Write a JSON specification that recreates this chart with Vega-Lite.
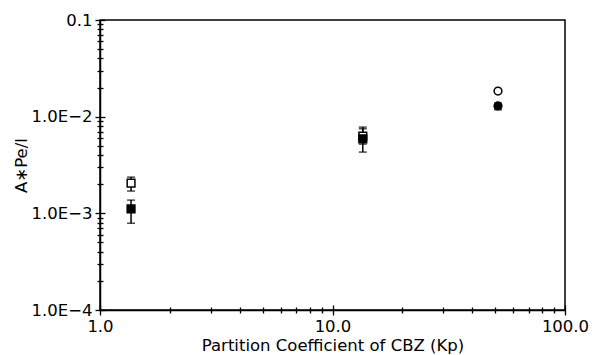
{
  "$schema": "https://vega.github.io/schema/vega-lite/v6.json",
  "width": 465,
  "height": 290,
  "autosize": {"type": "none"},
  "padding": {"left": 100, "top": 20, "right": 27, "bottom": 45},
  "background": "white",
  "config": {
    "view": {"stroke": "black", "strokeWidth": 1.5},
    "font": "DejaVu Sans",
    "axis": {"labelFont": "DejaVu Sans", "titleFont": "DejaVu Sans", "labelFontSize": 16.5, "titleFontSize": 16.5, "titleFontWeight": "normal", "labelColor": "black", "titleColor": "black", "tickColor": "black", "domainColor": "black", "grid": false, "domainWidth": 1.5, "tickWidth": 1.3}
  },
  "data": {
    "values": [
      {"kp": 1.36, "ape": 0.00205, "lo": 0.00170, "hi": 0.00237, "type": "open", "set": "A"},
      {"kp": 1.36, "ape": 0.00111, "lo": 0.00079, "hi": 0.00137, "type": "filled", "set": "A"},
      {"kp": 13.5, "ape": 0.0063, "lo": 0.0052, "hi": 0.0075, "type": "open", "set": "B"},
      {"kp": 13.5, "ape": 0.0059, "lo": 0.0043, "hi": 0.0078, "type": "filled", "set": "B"},
      {"kp": 51.5, "ape": 0.0184, "type": "open", "set": "C"},
      {"kp": 51.5, "ape": 0.0129, "lo": 0.0118, "hi": 0.0138, "type": "filled", "set": "C"}
    ]
  },
  "resolve": {"axis": {"x": "independent", "y": "independent"}},
  "layer": [
    {
      "mark": {"type": "errorbar", "ticks": {"size": 8, "color": "black", "thickness": 1.5}, "rule": {"color": "black", "strokeWidth": 1.5}},
      "encoding": {
        "x": {"field": "kp", "type": "quantitative", "scale": {"type": "log", "domain": [1, 100], "nice": false}, "axis": {"orient": "bottom", "values": [1, 10, 100], "tickSize": 5, "labelPadding": 3, "labelExpr": "datum.value == 1 ? '1.0' : datum.value == 10 ? '10.0' : '100.0'", "title": "Partition Coefficient of CBZ (Kp)", "titlePadding": 3, "labelFlush": false}},
        "y": {"field": "lo", "type": "quantitative", "scale": {"type": "log", "domain": [0.0001, 0.1], "nice": false}, "axis": {"orient": "left", "values": [0.0001, 0.001, 0.01, 0.1], "tickSize": 5, "labelPadding": 3, "labelExpr": "datum.value == 0.1 ? '0.1' : datum.value == 0.01 ? '1.0E\u22122' : datum.value == 0.001 ? '1.0E\u22123' : '1.0E\u22124'", "title": "A\u2217Pe/l", "titlePadding": 2, "labelFlush": false}},
        "y2": {"field": "hi"}
      }
    },
    {
      "mark": {"type": "point", "strokeWidth": 1.5, "opacity": 1},
      "encoding": {
        "x": {"field": "kp", "type": "quantitative", "axis": {"orient": "bottom", "values": [1, 10, 100], "tickSize": -5, "labels": false, "domain": false, "title": null}},
        "y": {"field": "ape", "type": "quantitative", "axis": {"orient": "left", "values": [0.0001, 0.001, 0.01, 0.1], "tickSize": -5, "labels": false, "domain": false, "title": null}},
        "shape": {"field": "set", "type": "nominal", "scale": {"domain": ["A", "B", "C"], "range": ["square", "square", "circle"]}, "legend": null},
        "fill": {"field": "type", "type": "nominal", "scale": {"domain": ["open", "filled"], "range": ["white", "black"]}, "legend": null},
        "size": {"field": "set", "type": "nominal", "scale": {"domain": ["A", "B", "C"], "range": [60, 60, 45]}, "legend": null},
        "color": {"value": "black"}
      }
    },
    {
      "mark": {"type": "point", "opacity": 0},
      "encoding": {
        "x": {"field": "kp", "type": "quantitative", "axis": {"orient": "bottom", "values": [2, 3, 4, 5, 6, 7, 8, 9, 20, 30, 40, 50, 60, 70, 80, 90], "tickSize": 3, "labels": false, "domain": false, "title": null}},
        "y": {"field": "ape", "type": "quantitative", "axis": {"orient": "left", "values": [0.0002, 0.0003, 0.0004, 0.0005, 0.0006, 0.0007, 0.0008, 0.0009, 0.002, 0.003, 0.004, 0.005, 0.006, 0.007, 0.008, 0.009, 0.02, 0.03, 0.04, 0.05, 0.06, 0.07, 0.08, 0.09], "tickSize": 3, "labels": false, "domain": false, "title": null}}
      }
    },
    {
      "mark": {"type": "point", "opacity": 0},
      "encoding": {
        "x": {"field": "kp", "type": "quantitative", "axis": {"orient": "bottom", "values": [2, 3, 4, 5, 6, 7, 8, 9, 20, 30, 40, 50, 60, 70, 80, 90], "tickSize": -3, "labels": false, "domain": false, "title": null}},
        "y": {"field": "ape", "type": "quantitative", "axis": {"orient": "left", "values": [0.0002, 0.0003, 0.0004, 0.0005, 0.0006, 0.0007, 0.0008, 0.0009, 0.002, 0.003, 0.004, 0.005, 0.006, 0.007, 0.008, 0.009, 0.02, 0.03, 0.04, 0.05, 0.06, 0.07, 0.08, 0.09], "tickSize": -3, "labels": false, "domain": false, "title": null}}
      }
    }
  ]
}
